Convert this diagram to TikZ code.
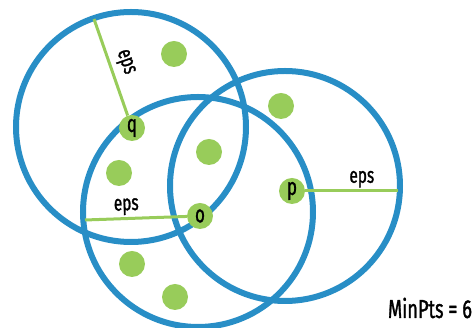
\documentclass[tikz,border=0pt]{standalone}
\usepackage{fontspec}
\setmainfont{Fira Sans}[FakeStretch=0.7, FakeBold=1.2]
\usetikzlibrary{positioning}
\definecolor{ringblue}{RGB}{40,142,198}
\definecolor{ptgreen}{RGB}{152,204,90}

\begin{document}
\begin{tikzpicture}[x=1pt,y=1pt,
    ring/.style={draw=ringblue, line width=6pt},
    pt/.style={circle, fill=ptgreen, minimum size=26pt, inner sep=0pt,
      font=\fontsize{24}{24}\selectfont},
    epsline/.style={draw=ptgreen, line width=3pt},
    epslabel/.style={font=\fontsize{22}{22}\selectfont, sloped, above, inner sep=2pt}]
  \useasboundingbox (0,0) rectangle (472,328);
  % eps neighbourhoods
  \draw[ring] (131,201) circle (115pt);
  \draw[ring] (198,116) circle (115pt);
  \draw[ring] (285,142) circle (115pt);
  % points
  \node[pt] (q) at (132,200) {q};
  \node[pt] (o) at (200,112) {o};
  \node[pt] (p) at (292,137) {p};
  \node[pt] (n1) at (174,274) {};
  \node[pt] (n2) at (281,222) {};
  \node[pt] (n3) at (209,176) {};
  \node[pt] (n4) at (119,155) {};
  \node[pt] (n5) at (132,64) {};
  \node[pt] (n6) at (175,31) {};
  % radii
  \coordinate (qe) at (94,309);
  \coordinate (oe) at (85,108);
  \coordinate (pe) at (398,137);
  \draw[epsline] (q) -- (qe) node[epslabel, pos=0.5, yshift=3pt] {eps};
  \draw[epsline] (o) -- (oe) node[epslabel, pos=0.59] {eps};
  \draw[epsline] (p) -- (pe) node[epslabel, pos=0.61] {eps};
  \node[font=\fontsize{26}{26}\selectfont] (minpts) at (430,20) {MinPts = 6};
\end{tikzpicture}
\end{document}
